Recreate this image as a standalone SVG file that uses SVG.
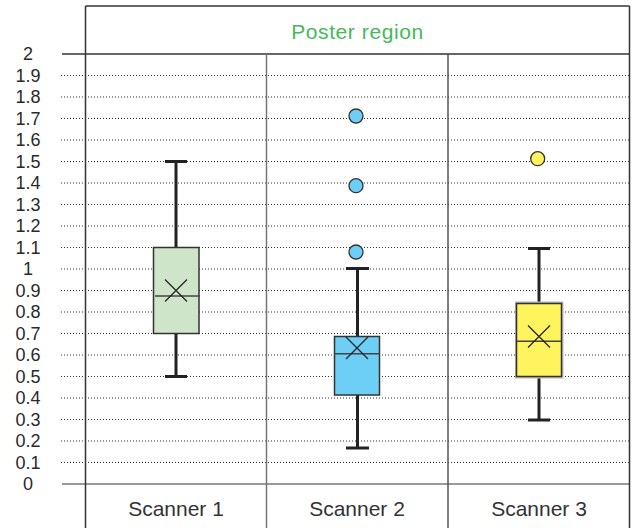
<svg xmlns="http://www.w3.org/2000/svg" width="632" height="528" viewBox="0 0 632 528">
<style>
.grid{stroke:#333;stroke-width:1;stroke-dasharray:1 2;fill:none}
.ax{font-family:"Liberation Sans",Arial,sans-serif;font-size:18px;fill:#2a2a2a;text-anchor:middle}
.cat{font-family:"Liberation Sans",Arial,sans-serif;font-size:21px;fill:#333;text-anchor:middle}
.hdr{font-family:"Liberation Sans",Arial,sans-serif;font-size:21px;letter-spacing:0.6px;fill:#44b957;text-anchor:middle}
.wh{stroke:#222;stroke-width:3;fill:none}
.box{stroke:#333;stroke-width:1.5}
.med{stroke:#444;stroke-width:1.5}
.mean{stroke:#222;stroke-width:1.2}
.out{stroke:#333;stroke-width:1.3}
</style>
<rect width="632" height="528" fill="#fff"/>
<g id="grid">
<line class="grid" x1="61" y1="75.5" x2="629" y2="75.5"/>
<line class="grid" x1="61" y1="97" x2="629" y2="97"/>
<line class="grid" x1="61" y1="118.5" x2="629" y2="118.5"/>
<line class="grid" x1="61" y1="140" x2="629" y2="140"/>
<line class="grid" x1="61" y1="161.5" x2="629" y2="161.5"/>
<line class="grid" x1="61" y1="183" x2="629" y2="183"/>
<line class="grid" x1="61" y1="204.5" x2="629" y2="204.5"/>
<line class="grid" x1="61" y1="226" x2="629" y2="226"/>
<line class="grid" x1="61" y1="247.5" x2="629" y2="247.5"/>
<line class="grid" x1="61" y1="269" x2="629" y2="269"/>
<line class="grid" x1="61" y1="290.5" x2="629" y2="290.5"/>
<line class="grid" x1="61" y1="312" x2="629" y2="312"/>
<line class="grid" x1="61" y1="333.5" x2="629" y2="333.5"/>
<line class="grid" x1="61" y1="355" x2="629" y2="355"/>
<line class="grid" x1="61" y1="376.5" x2="629" y2="376.5"/>
<line class="grid" x1="61" y1="398" x2="629" y2="398"/>
<line class="grid" x1="61" y1="419.5" x2="629" y2="419.5"/>
<line class="grid" x1="61" y1="441" x2="629" y2="441"/>
<line class="grid" x1="61" y1="462.5" x2="629" y2="462.5"/>
</g>
<g id="frame">
<line x1="85.5" y1="6" x2="629.5" y2="6" stroke="#333" stroke-width="1.5"/>
<line x1="62" y1="54" x2="629.5" y2="54" stroke="#333" stroke-width="1.5"/>
<line x1="62" y1="484" x2="629.5" y2="484" stroke="#777" stroke-width="1.5"/>
<line x1="85.5" y1="6" x2="85.5" y2="528" stroke="#333" stroke-width="1.5"/>
<line x1="629.5" y1="6" x2="629.5" y2="528" stroke="#333" stroke-width="1.5"/>
<line x1="266.5" y1="54" x2="266.5" y2="528" stroke="#777" stroke-width="1.5"/>
<line x1="448" y1="54" x2="448" y2="528" stroke="#555" stroke-width="1.5"/>
</g>
<g id="header"><text class="hdr" x="357.5" y="39">Poster region</text></g>
<g id="yaxis">
<text class="ax" x="28" y="60">2</text>
<text class="ax" x="28" y="81.5">1.9</text>
<text class="ax" x="28" y="103">1.8</text>
<text class="ax" x="28" y="124.5">1.7</text>
<text class="ax" x="28" y="146">1.6</text>
<text class="ax" x="28" y="167.5">1.5</text>
<text class="ax" x="28" y="189">1.4</text>
<text class="ax" x="28" y="210.5">1.3</text>
<text class="ax" x="28" y="232">1.2</text>
<text class="ax" x="28" y="253.5">1.1</text>
<text class="ax" x="28" y="275">1</text>
<text class="ax" x="28" y="296.5">0.9</text>
<text class="ax" x="28" y="318">0.8</text>
<text class="ax" x="28" y="339.5">0.7</text>
<text class="ax" x="28" y="361">0.6</text>
<text class="ax" x="28" y="382.5">0.5</text>
<text class="ax" x="28" y="404">0.4</text>
<text class="ax" x="28" y="425.5">0.3</text>
<text class="ax" x="28" y="447">0.2</text>
<text class="ax" x="28" y="468.5">0.1</text>
<text class="ax" x="28" y="490">0</text>
</g>
<g id="scanner1">
<line class="wh" x1="176" y1="161.5" x2="176" y2="247.5"/>
<line class="wh" x1="165" y1="161.5" x2="187" y2="161.5"/>
<line class="wh" x1="176" y1="333.5" x2="176" y2="376.5"/>
<line class="wh" x1="165" y1="376.5" x2="187" y2="376.5"/>
<rect class="box" x="153.5" y="247.5" width="45.5" height="86" fill="#cfe5c9"/>
<line class="med" x1="155" y1="296" x2="200" y2="296"/>
<path class="mean" d="M165 279.5L187 301.5M187 279.5L165 301.5"/>
<text class="cat" x="176" y="516">Scanner 1</text>
</g>
<g id="scanner2">
<line class="wh" x1="357.5" y1="268.5" x2="357.5" y2="336.5"/>
<line class="wh" x1="346" y1="268.5" x2="369" y2="268.5"/>
<line class="wh" x1="357.5" y1="395" x2="357.5" y2="448"/>
<line class="wh" x1="346" y1="448" x2="369" y2="448"/>
<rect class="box" x="334.5" y="336.5" width="45" height="58.5" fill="#6dcff6"/>
<line class="med" x1="335" y1="353.7" x2="379" y2="353.7"/>
<path class="mean" d="M346 337L368 359M368 337L346 359"/>
<circle class="out" cx="356" cy="252" r="7" fill="#6dcff6"/>
<circle class="out" cx="356" cy="185.7" r="7" fill="#6dcff6"/>
<circle class="out" cx="356" cy="116" r="7" fill="#6dcff6"/>
<text class="cat" x="357" y="516">Scanner 2</text>
</g>
<g id="scanner3">
<line class="wh" x1="539" y1="248.5" x2="539" y2="303.5"/>
<line class="wh" x1="528" y1="248.5" x2="550" y2="248.5"/>
<line class="wh" x1="539" y1="376.5" x2="539" y2="420"/>
<line class="wh" x1="528" y1="420" x2="550" y2="420"/>
<rect x="516.5" y="303" width="45.5" height="74" fill="none" stroke="#bbb" stroke-width="3"/>
<rect class="box" x="516.5" y="303.5" width="45" height="73" fill="#fff35e" stroke="#555"/>
<line class="med" x1="517" y1="341.3" x2="561" y2="341.3"/>
<path class="mean" d="M528 325.5L550 347.5M550 325.5L528 347.5"/>
<circle class="out" cx="537.7" cy="158.7" r="7" fill="#fff35e"/>
<text class="cat" x="539" y="516">Scanner 3</text>
</g>
</svg>
